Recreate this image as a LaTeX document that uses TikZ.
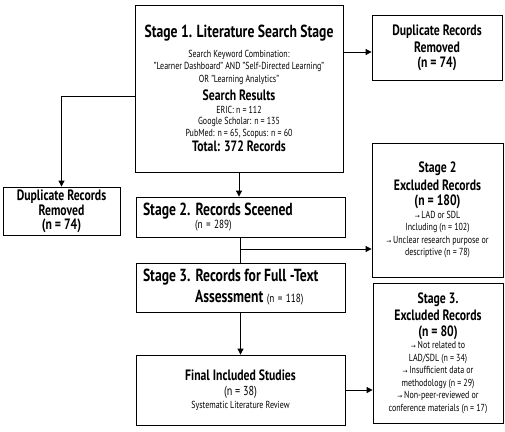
\documentclass[tikz,border=0pt]{standalone}
\usepackage{fontspec}
\setmainfont{PT Sans}[FakeStretch=0.78]
\newfontfamily\arrowfont{DejaVu Sans}
\usetikzlibrary{arrows.meta}

\newcommand{\titlefont}{\bfseries\fontsize{17.5}{18}\selectfont}
\newcommand{\headfont}{\bfseries\fontsize{15}{16}\selectfont}
\newcommand{\bodyfont}{\fontsize{10.2}{12.5}\selectfont}
\newcommand{\ra}{{\arrowfont\fontsize{6}{6}\selectfont→}\,}

\begin{document}
\begin{tikzpicture}[x=1pt, y=-1pt,
    stagebox/.style={draw, line width=0.8pt, align=center, inner sep=0pt, font=\bodyfont},
    flowline/.style={line width=0.8pt},
    flowarrow/.style={line width=0.8pt, -{Triangle[length=6pt,width=6pt]}}]
    \useasboundingbox (0,0) rectangle (505,431);
    % Main column
    \node[stagebox, minimum width=208pt, minimum height=167pt] (search) at (239,88.5) {%
        {\titlefont Stage 1. Literature Search Stage}\\[7pt]
        Search Keyword Combination:\\
        "Learner Dashboard" AND "Self-Directed Learning"\\
        OR "Learning Analytics"\\[5pt]
        {\headfont Search Results}\\[0pt]
        ERIC: n = 112\\[-1pt]
        Google Scholar: n = 135\\[-0.5pt]
        PubMed: n = 65, Scopus: n = 60\\[1pt]
        {\headfont Total: 372 Records}};
    \node[stagebox, minimum width=209pt, minimum height=40pt, text width=195pt, align=left] (screened) at (240.5,217) {%
        {\titlefont Stage 2. Records Sceened}\\[1pt]
        \hspace*{52pt}{\fontsize{11.8}{13}\selectfont (n = 289)}};
    \node[stagebox, minimum width=209pt, minimum height=49pt, text width=195pt, align=left] (fulltext) at (240.5,287.5) {%
        {\titlefont Stage 3. Records for Full -Text}\\[4pt]
        \hspace*{52pt}{\titlefont Assessment} {\fontsize{11.8}{13}\selectfont (n = 118)}};
    \node[stagebox, minimum width=209pt, minimum height=70pt] (included) at (240.5,390) {%
        {\headfont Final Included Studies}\\[3pt]
        {\fontsize{13}{15}\selectfont (n = 38)}\\[0pt]
        Systematic Literature Review};
    % Side boxes
    \node[stagebox, minimum width=130pt, minimum height=65pt] (dupright) at (437,47.5) {%
        {\headfont Duplicate Records}\\[2.5pt]
        {\headfont Removed}\\[2.5pt]
        {\headfont (n = 74)}};
    \node[stagebox, minimum width=117pt, minimum height=48pt] (dupleft) at (61.5,211) {%
        {\headfont Duplicate Records}\\[1pt]
        {\headfont Removed}\\[1pt]
        {\headfont (n = 74)}};
    \node[stagebox, minimum width=131pt, minimum height=134pt] (excl2) at (437.5,210) {%
        {\headfont Stage 2}\\[3.5pt]
        {\headfont Excluded Records}\\[2.5pt]
        {\headfont (n = 180)}\\
        \ra LAD or SDL\\
        Including (n = 102)\\
        \ra Unclear research purpose or\\
        descriptive (n = 78)};
    \node[stagebox, minimum width=130pt, minimum height=140pt] (excl3) at (438,353) {%
        {\headfont Stage 3.}\\[2pt]
        {\headfont Excluded Records}\\[3.5pt]
        {\headfont (n = 80)}\\
        \ra Not related to\\
        LAD/SDL (n = 34)\\
        \ra Insufficient data or\\
        methodology (n = 29)\\
        \ra Non-peer-reviewed or\\
        conference materials (n = 17)};
    % Connectors
    \draw[flowarrow] (search.south) -- (search.south |- screened.north);
    \draw[flowarrow] ([yshift=-4.5pt]dupright.west -| search.east) -- ([yshift=-4.5pt]dupright.west);
    \draw[flowarrow] ([yshift=-8pt]search.west) -| (dupleft.north);
    \draw[flowline] (screened.south) -- (fulltext.north);
    \coordinate (split) at (240.5,249);
    \draw[flowarrow] (split) -- (split -| excl2.west);
    \draw[flowarrow] (fulltext.south) -- (included.north);
    \draw[flowarrow] (included.east) -- (included.east -| excl3.west);
\end{tikzpicture}
\end{document}
